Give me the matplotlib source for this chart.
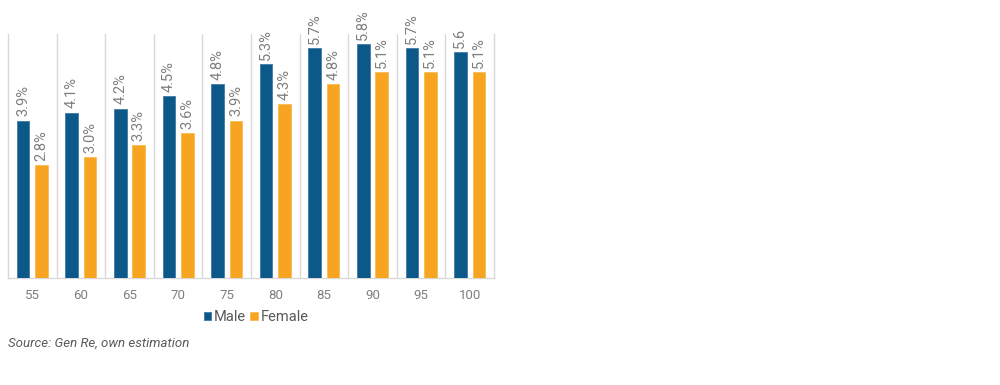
import numpy as np
import matplotlib.pyplot as plt

ages = ["55", "60", "65", "70", "75", "80", "85", "90", "95", "100"]
male = [3.9, 4.1, 4.2, 4.5, 4.8, 5.3, 5.7, 5.8, 5.7, 5.6]
female = [2.8, 3.0, 3.3, 3.6, 3.9, 4.3, 4.8, 5.1, 5.1, 5.1]
male_labels = ["3.9%", "4.1%", "4.2%", "4.5%", "4.8%", "5.3%", "5.7%", "5.8%", "5.7%", "5.6"]
female_labels = ["2.8%", "3.0%", "3.3%", "3.6%", "3.9%", "4.3%", "4.8%", "5.1%", "5.1%", "5.1%"]

BLUE = "#0B5889"
ORANGE = "#F7A521"
GREY = "#7F7F7F"
LINE = "#D9D9D9"

plt.rcParams['font.family'] = ['Roboto', 'DejaVu Sans']

fig = plt.figure(figsize=(10, 3.85), dpi=100)
ax = fig.add_axes([0.008, 0.278, 0.486, 0.634])

x = np.arange(len(ages))
w = 0.26
off = 0.19
ax.bar(x - off, male, w, color=BLUE, edgecolor="#3F7BA6", linewidth=0.6, label="Male", zorder=3)
ax.bar(x + off, female, w, color=ORANGE, edgecolor="#F9BB55", linewidth=0.6, label="Female", zorder=3)

# value labels, rotated like the original
for i in range(len(ages)):
    ax.annotate(male_labels[i], (x[i] - off, male[i]), xytext=(0, 3), textcoords="offset points",
                rotation=90, ha="center", va="bottom", color=GREY, fontsize=10.5, annotation_clip=False)
    ax.annotate(female_labels[i], (x[i] + off, female[i]), xytext=(0, 3), textcoords="offset points",
                rotation=90, ha="center", va="bottom", color=GREY, fontsize=10.5, annotation_clip=False)

ax.set_xlim(-0.5, len(ages) - 0.5)
ax.set_ylim(0, 6.05)
for b in np.arange(0.5, len(ages) - 0.5, 1):
    ax.axvline(b, color=LINE, linewidth=1, zorder=1)

ax.set_xticks(x)
ax.set_xticklabels(ages, color=GREY, fontsize=9.5)
ax.tick_params(axis="x", length=0, pad=8)
ax.set_yticks([])
ax.spines["top"].set_visible(False)
for s in ["left", "right", "bottom"]:
    ax.spines[s].set_color(LINE)
    ax.spines[s].set_linewidth(1)

fig.legend(loc="center", bbox_to_anchor=(0.256, 0.176), ncol=2, frameon=False,
           fontsize=10.5, labelcolor="#595959", handlelength=0.5, handleheight=0.5,
           handletextpad=0.2, columnspacing=0.3)

fig.text(0.008, 0.108, "Source: Gen Re, own estimation", fontsize=9.5, style="italic",
         color="#595959", ha="left", va="center")

fig.savefig("out.png", dpi=100)
